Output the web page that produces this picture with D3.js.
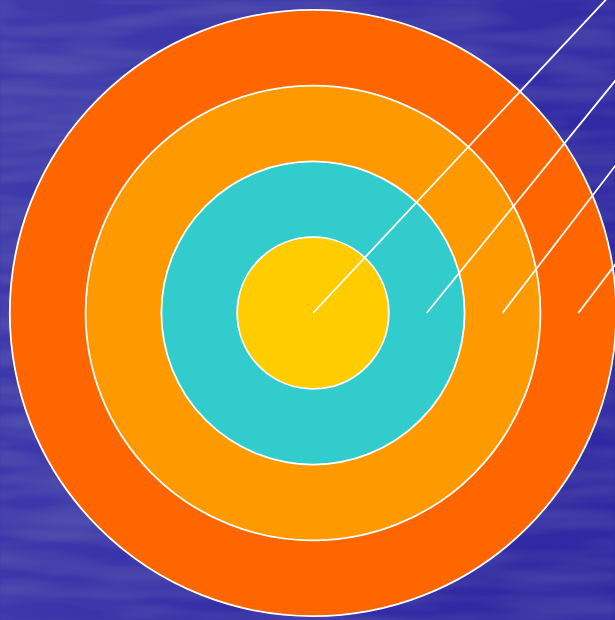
<!DOCTYPE html>
<html><head><meta charset="utf-8">
<script src="https://cdn.jsdelivr.net/npm/d3@7"></script>
<style>html,body{margin:0;padding:0;overflow:hidden;background:#3530a8}</style>
</head><body>
<script>
// Rings (outer to inner), radius in ring units
const rings = ["outer", "second", "third", "inner"];
const ringRadius = [4, 3, 2, 1];
const ringColors = ["#ff6600", "#ff9900", "#33cccc", "#ffcc00"];
// Leader lines: start on x-axis (ring units), end point (ring units, up = positive)
const lineStartX = [0, 1.5, 2.5, 3.5];
const lineEndX = [4.3, 4.3, 4.3, 4.3];
const lineEndY = [4.6, 3.45, 2.35, 1.05];

const W = 615, H = 620;
const cx = 313, cy = 313, unit = 75.8;
const svg = d3.select("body").append("svg").attr("width", W).attr("height", H);
const defs = svg.append("defs");
const lg = defs.append("linearGradient").attr("id","bg").attr("x1","0").attr("y1","0").attr("x2","1").attr("y2","0.3");
lg.append("stop").attr("offset","0").attr("stop-color","#4744b0");
lg.append("stop").attr("offset","0.5").attr("stop-color","#3833a9");
lg.append("stop").attr("offset","1").attr("stop-color","#2b22a0");
const f = defs.append("filter").attr("id","tex").attr("x","0").attr("y","0").attr("width","1").attr("height","1");
f.append("feTurbulence").attr("type","fractalNoise").attr("baseFrequency","0.008 0.06").attr("numOctaves","2").attr("seed","4").attr("result","n");
f.append("feColorMatrix").attr("in","n").attr("type","matrix")
 .attr("values","0 0 0 0 1  0 0 0 0 1  0 0 0 0 1  0 0 0 0.22 -0.08").attr("result","w");
f.append("feGaussianBlur").attr("in","w").attr("stdDeviation","1.5 0.8").attr("result","wb");
f.append("feComposite").attr("in","wb").attr("in2","SourceGraphic").attr("operator","atop");

svg.append("rect").attr("width",W).attr("height",H).attr("fill","url(#bg)");
svg.append("rect").attr("width",W).attr("height",H).attr("fill","#3833a9").attr("filter","url(#tex)").attr("opacity",0.45);

const r = d3.scaleLinear().domain([0,1]).range([0,unit]);
const x = d3.scaleLinear().domain([0,1]).range([cx, cx+unit]);
const y = d3.scaleLinear().domain([0,1]).range([cy, cy-unit]);

svg.append("g").selectAll("circle").data(rings).join("circle")
  .attr("cx", cx).attr("cy", cy)
  .attr("r", (d,i)=>r(ringRadius[i]))
  .attr("fill", (d,i)=>ringColors[i])
  .attr("stroke","#fff").attr("stroke-width",1.8);

svg.append("g").selectAll("line").data(lineStartX).join("line")
  .attr("x1", d=>x(d)).attr("y1", y(0))
  .attr("x2", (d,i)=>x(lineEndX[i])).attr("y2", (d,i)=>y(lineEndY[i]))
  .attr("stroke","#fff").attr("stroke-width",1.8);
</script>
</body></html>
